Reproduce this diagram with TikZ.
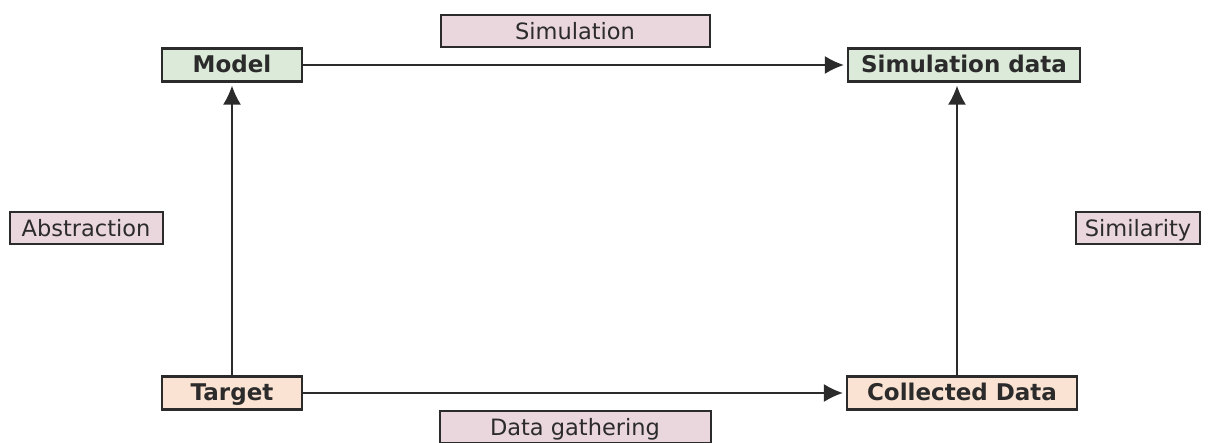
\documentclass[tikz,border=0pt]{standalone}
\usepackage{fontspec}
\setmainfont{DejaVu Sans}
\usetikzlibrary{arrows.meta}
\definecolor{gfill}{HTML}{DCEBD9}
\definecolor{pfill}{HTML}{FBE3D3}
\definecolor{lfill}{HTML}{EAD6DD}
\definecolor{ink}{HTML}{2B2B2B}
\begin{document}
\begin{tikzpicture}[x=1pt,y=-1pt,
  box/.style={draw=ink,line width=2.4pt,minimum height=33pt,inner sep=0pt,font=\fontsize{23}{26}\selectfont\bfseries,text=ink,text height=18pt,text depth=2pt},
  gbox/.style={box,fill=gfill},
  pbox/.style={box,fill=pfill},
  lab/.style={draw=ink,line width=2pt,fill=lfill,minimum height=32pt,inner sep=0pt,font=\fontsize{22.5}{25}\selectfont,text=ink,text height=18.5pt,text depth=1.5pt},
  arr/.style={draw=ink,line width=1.4pt,shorten >=3pt,-{Latex[length=19pt,width=18pt]}}]
\useasboundingbox (0,0) rectangle (1208,443);
\node[gbox,minimum width=140pt] (model) at (232,65) {Model};
\node[gbox,minimum width=232pt] (simdata) at (964,65) {Simulation data};
\node[pbox,minimum width=140pt] (target) at (232,393) {Target};
\node[pbox,minimum width=230pt] (coll) at (962,393) {Collected Data};
\node[lab,minimum width=269pt] (lsim) at (575,31) {Simulation};
\node[lab,minimum width=271pt] (ldata) at (575,427) {Data gathering};
\node[lab,minimum width=153pt] (labs) at (86,228) {Abstraction};
\node[lab,minimum width=124pt] (lsimil) at (1138,228) {Similarity};
\draw[arr] (model) -- (simdata);
\draw[arr] (target) -- (coll);
\draw[arr] (target) -- (model);
\draw[arr] (coll.north -| 957,0) -- (simdata.south -| 957,0);
\end{tikzpicture}
\end{document}
